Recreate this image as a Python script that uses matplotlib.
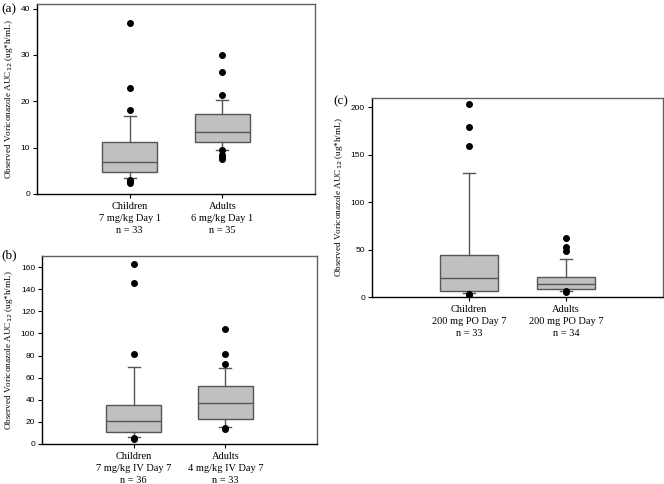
import matplotlib
matplotlib.use("Agg")
import matplotlib.pyplot as plt

# panel (a): Day 1
a_labels = ["Children\n7 mg/kg Day 1\nn = 33", "Adults\n6 mg/kg Day 1\nn = 35"]
a_q1 = [4.7, 11.2]
a_med = [6.9, 13.3]
a_q3 = [11.3, 17.3]
a_lo = [3.4, 9.5]
a_hi = [16.8, 20.2]
a_out = [[36.8, 22.9, 18.1, 3.1, 2.7, 2.4], [29.9, 26.3, 21.4, 9.6, 8.5, 8.0, 7.5]]

# panel (b): IV Day 7
b_labels = ["Children\n7 mg/kg IV Day 7\nn = 36", "Adults\n4 mg/kg IV Day 7\nn = 33"]
b_q1 = [10.9, 22.6]
b_med = [21.1, 37.1]
b_q3 = [35.6, 52.2]
b_lo = [6.3, 15.4]
b_hi = [69.4, 69.1]
b_out = [[162.4, 145.5, 81.5, 5.4, 4.5], [104.2, 81.5, 72.5, 14.8, 13.6]]

# panel (c): PO Day 7
c_labels = ["Children\n200 mg PO Day 7\nn = 33", "Adults\n200 mg PO Day 7\nn = 34"]
c_q1 = [6.7, 8.8]
c_med = [20.5, 13.5]
c_q3 = [43.9, 20.9]
c_lo = [4.6, 6.4]
c_hi = [130.6, 39.6]
c_out = [[203.5, 179.8, 159.3, 3.2, 2.1], [62.7, 53.1, 48.5, 6.0, 5.3]]

W, H = 664, 484
fig = plt.figure(figsize=(W / 100, H / 100), dpi=100)

ylab = "Observed Voriconazole AUC$_{12}$ (ug*h/mL)"
serif = ["Liberation Serif", "DejaVu Serif"]
sans = ["Liberation Sans", "DejaVu Sans"]


def panel(px, ymax, ystep, q1, med, q3, lo, hi, out, labels):
    x0, y0, x1, y1 = px  # pixel box: left, top, right, bottom
    ax = fig.add_axes([x0 / W, 1 - y1 / H, (x1 - x0) / W, (y1 - y0) / H])
    stats = []
    for i in range(2):
        stats.append(dict(q1=q1[i], med=med[i], q3=q3[i], whislo=lo[i],
                          whishi=hi[i], fliers=out[i]))
    ax.bxp(stats, positions=[1, 2], widths=0.6, patch_artist=True,
           boxprops=dict(facecolor="#c0c0c0", edgecolor="#555555", linewidth=1),
           medianprops=dict(color="#555555", linewidth=1),
           whiskerprops=dict(color="#555555", linewidth=1),
           capprops=dict(color="#555555", linewidth=1),
           capwidths=0.13,
           flierprops=dict(marker="o", markerfacecolor="black",
                           markeredgecolor="black", markersize=4))
    ax.set_xlim(0, 3)
    ax.set_ylim(0, ymax)
    ax.set_yticks(range(0, int(ymax) + 1, ystep))
    ax.set_xticks([1, 2])
    ax.set_xticklabels(labels, family=serif, fontsize=7.5, linespacing=1.38)
    for t in ax.get_yticklabels():
        t.set_family(sans)
        t.set_fontsize(6)
    ax.tick_params(axis="y", length=3, width=0.8, pad=2)
    ax.tick_params(axis="x", length=3, width=0.8, pad=3)
    ax.spines["left"].set_color("black")
    ax.spines["bottom"].set_color("black")
    ax.spines["top"].set_color("#606060")
    ax.spines["right"].set_color("#606060")
    for s in ax.spines.values():
        s.set_linewidth(1)
    ax.set_ylabel(ylab, family=serif, fontsize=6.6, labelpad=4)
    return ax


axa = panel((37, 4, 315, 194), 41, 10, a_q1, a_med, a_q3, a_lo, a_hi, a_out, a_labels)
axb = panel((42, 256, 317, 444), 170, 20, b_q1, b_med, b_q3, b_lo, b_hi, b_out, b_labels)
axc = panel((372, 98, 663, 297), 210, 50, c_q1, c_med, c_q3, c_lo, c_hi, c_out, c_labels)

fig.text(1 / W, 1 - 9 / H, "(a)", family=serif, fontsize=9.5, va="center")
fig.text(1 / W, 1 - 255 / H, "(b)", family=serif, fontsize=9.5, va="center")
fig.text(333 / W, 1 - 101 / H, "(c)", family=serif, fontsize=9.5, va="center")

fig.savefig("out.png", dpi=100)
